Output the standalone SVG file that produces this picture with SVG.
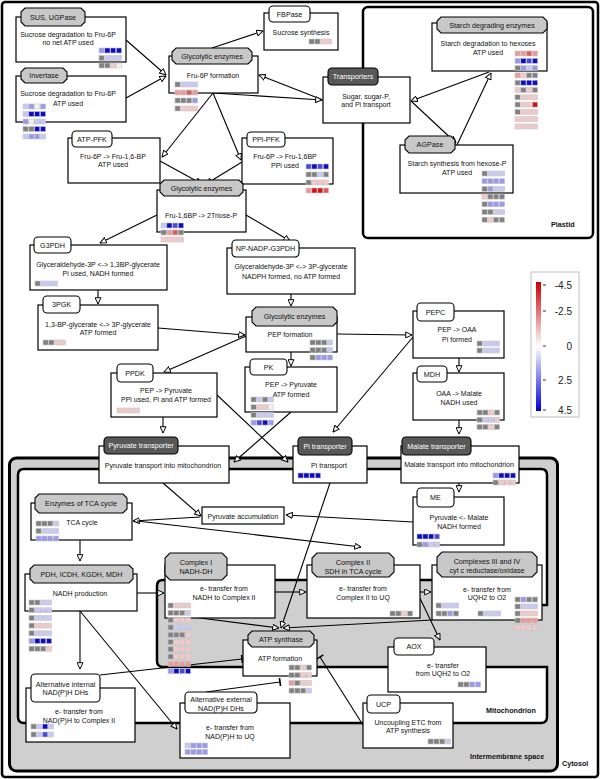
<svg xmlns="http://www.w3.org/2000/svg" width="600" height="779" viewBox="0 0 600 779">
<style>
text{font-family:"Liberation Sans",Arial,sans-serif;font-size:7px;text-anchor:middle;fill:#111}
.lb{font-size:7.2px}
.wt{fill:#fff}
.bd{font-weight:bold;font-size:7.2px;text-anchor:start}
.lg{font-size:10px;text-anchor:end;fill:#222}
.box{fill:#fff;stroke:#000;stroke-width:1.2}
.tg{fill:#c8c8c8;stroke:#000;stroke-width:1.1}
.tw{fill:#fff;stroke:#000;stroke-width:1.1}
.td{fill:#585858;stroke:#000;stroke-width:1.1}
.cn path{fill:none;stroke:#000;stroke-width:1.1}
.hm rect{stroke:#c8c8c8;stroke-width:0.6}
.g{fill:#808080}.w{fill:#f2f2f2}
.b1{fill:#c8c8f4}.b2{fill:#9898ec}.b3{fill:#4848dc}.b4{fill:#0c0cc8}
.r1{fill:#f4c8c8}.r2{fill:#eb9a9a}.r3{fill:#e05a5a}.r4{fill:#d81010}
</style>
<defs>
<marker id="a" viewBox="0 0 10 10" refX="9.5" refY="5" markerWidth="7" markerHeight="7" markerUnits="userSpaceOnUse" orient="auto"><path d="M0.5,0.8 L9.5,5 L0.5,9.2 Z" fill="#fff" stroke="#000" stroke-width="1.4"/></marker>
<marker id="t" viewBox="0 0 10 10" refX="5" refY="5" markerWidth="8" markerHeight="8" markerUnits="userSpaceOnUse" orient="auto"><path d="M5,0 V10" stroke="#000" stroke-width="2"/></marker>
<linearGradient id="lgd" x1="0" y1="0" x2="0" y2="1"><stop offset="0" stop-color="#c80000"/><stop offset="0.5" stop-color="#fff"/><stop offset="1" stop-color="#0000d8"/></linearGradient>
</defs>
<rect width="600" height="779" fill="#fff"/>
<g id="frames">
<rect x="2" y="2" width="596" height="775" rx="3" fill="#fff" stroke="#000" stroke-width="2.5"/>
<rect x="363" y="7" width="230" height="231" rx="5" fill="#fff" stroke="#000" stroke-width="2.5"/>
<rect x="9.5" y="458" width="548" height="313" rx="7" fill="#cfcfcf" stroke="#000" stroke-width="3"/>
<path d="M24,469 H541 Q547,469 547,475 V605 H436 V580 H163 Q157,580 157,586 V661 Q157,667 163,667 H547 V717 Q547,723 541,723 H24 Q18,723 18,717 V475 Q18,469 24,469 Z" fill="#fff" stroke="#000" stroke-width="2.5"/>
<text class="bd" x="486" y="713">Mitochondrion</text>
<text class="bd" x="551" y="227">Plastid</text>
<text class="bd" x="470" y="759">Intermembrane space</text>
<text class="bd" x="562" y="766">Cytosol</text>
</g>
<g id="legend">
<rect x="531" y="272" width="48" height="145" fill="#fff" stroke="#c8c8c8" stroke-width="1.2"/>
<rect x="536" y="282" width="5" height="129" fill="url(#lgd)"/>
<path d="M543,285 h3 M543,311 h3 M543,346 h3 M543,380 h3 M543,410 h3" stroke="#333" stroke-width="1"/>
<text class="lg" x="572" y="289">-4.5</text>
<text class="lg" x="572" y="315">-2.5</text>
<text class="lg" x="572" y="350">0</text>
<text class="lg" x="572" y="384">2.5</text>
<text class="lg" x="572" y="414">4.5</text>
</g>
<g id="connectors" class="cn">
<path d="M126,40 L166,75" marker-end="url(#a)"/>
<path d="M126,98 L166,76" marker-end="url(#a)"/>
<path d="M212,48 L263,31" marker-end="url(#a)"/>
<path d="M323,100 L259,75" marker-end="url(#a)"/>
<path d="M213,93 L322,100" marker-end="url(#a)"/>
<path d="M213,93 L162,157" marker-end="url(#a)"/>
<path d="M213,93 L241,160" marker-end="url(#a)"/>
<path d="M160,161 L202,184" marker-end="url(#a)"/>
<path d="M242,162 L206,184" marker-end="url(#a)"/>
<path d="M489,72 L411,101" marker-end="url(#a)"/>
<path d="M411,101 L456,143" marker-end="url(#a)"/>
<path d="M457,145 L491,73" marker-end="url(#a)"/>
<path d="M157,215 L100,243" marker-end="url(#a)"/>
<path d="M246,215 L290,241" marker-end="url(#a)"/>
<path d="M98,290 L98,304" marker-end="url(#a)"/>
<path d="M291,294 L291,306" marker-end="url(#a)"/>
<path d="M158,328 L245,335" marker-end="url(#a)"/>
<path d="M246,336 L164,372" marker-end="url(#a)"/>
<path d="M291,352 L291,366" marker-end="url(#a)"/>
<path d="M337,334 L412,335" marker-end="url(#a)"/>
<path d="M459,358 L459,372" marker-end="url(#a)"/>
<path d="M459,420 L459,434" marker-end="url(#a)"/>
<path d="M163,417 L163,433" marker-end="url(#a)"/>
<path d="M217,395 L288,462" marker-end="url(#a)"/>
<path d="M291,412 L234,462" marker-end="url(#a)"/>
<path d="M413,337 L333,432" marker-end="url(#a)"/>
<path d="M459,483 L459,492" marker-end="url(#a)"/>
<path d="M163,483 L201,516" marker-end="url(#a)"/>
<path d="M413,522 L286,515" marker-end="url(#a)"/>
<path d="M200,517 L133,521" marker-end="url(#a)"/>
<path d="M137,521 L361,547" marker-end="url(#a)"/>
<path d="M80,540 L80,561" marker-end="url(#a)"/>
<path d="M137,593 L164,593" marker-end="url(#a)"/>
<path d="M80,611 L80,669" marker-end="url(#a)"/>
<path d="M80,611 L177,729" marker-end="url(#a)"/>
<path d="M275,592 L306,592" marker-end="url(#a)"/>
<path d="M420,592 L431,592" marker-end="url(#a)"/>
<path d="M417,592 L440,640" marker-end="url(#a)"/>
<path d="M330,483 L281,628" marker-end="url(#a)"/>
<path d="M192,617 L279,628" marker-end="url(#a)"/>
<path d="M432,620 L283,628" marker-end="url(#a)"/>
<path d="M100,675 L242,659" marker-end="url(#t)"/>
<path d="M206,692 L280,682" marker-end="url(#t)"/>
<path d="M363,725 L320,657" marker-end="url(#t)"/>
</g>
<g id="nodes">
<g id="sus"><rect class="box" x="16" y="17" width="110" height="45"/><polygon class="tg" points="25,8 81,8 85,12 85,22 81,26 25,26 21,22 21,12"/><text class="lb" x="53" y="20">SUS, UGPase</text><text x="68" y="36.5">Sucrose degradation to Fru-6P</text><text x="68" y="44.5">no net ATP used</text></g>
<g id="invertase"><rect class="box" x="16" y="76" width="110" height="46"/><polygon class="tg" points="25,68 63,68 67,72 67,79 63,83 25,83 21,79 21,72"/><text class="lb" x="44" y="78">Invertase</text><text x="68" y="95.5">Sucrose degradation to Fru-6P</text><text x="68" y="105.5">ATP used</text></g>
<g id="glyc1"><rect class="box" x="169" y="56" width="89" height="37"/><polygon class="tg" points="176,48 248,48 252,52 252,60 248,64 176,64 172,60 172,52"/><text class="lb" x="212" y="58.5">Glycolytic enzymes</text><text x="213" y="77.5">Fru-6P formation</text></g>
<g id="fbpase"><rect class="box" x="264" y="13" width="74" height="37"/><rect class="tw" x="269" y="6" width="41" height="16" rx="4"/><text class="lb" x="289.5" y="16.5">FBPase</text><text x="301" y="34.5">Sucrose synthesis</text></g>
<g id="transporters"><rect class="box" x="323" y="77" width="87" height="46"/><rect class="td" x="328" y="68" width="50" height="17" rx="4"/><text class="lb wt" x="353" y="79">Transporters</text><text x="366" y="98.5">Sugar, sugar-P,</text><text x="366" y="106.5">and Pi transport</text></g>
<g id="atppfk"><rect class="box" x="68" y="138" width="92" height="45"/><rect class="tw" x="72" y="131" width="40" height="16" rx="4"/><text class="lb" x="92" y="141.5">ATP-PFK</text><text x="113" y="158.5">Fru-6P -&gt; Fru-1,6-BP</text><text x="113" y="166.5">ATP used</text></g>
<g id="ppipfk"><rect class="box" x="242" y="138" width="91" height="46"/><rect class="tw" x="247" y="132" width="38" height="15" rx="4"/><text class="lb" x="266" y="142">PPi-PFK</text><text x="285" y="158.5">Fru-6P -&gt; Fru-1,6BP</text><text x="285" y="168">PPi used</text></g>
<g id="starch"><rect class="box" x="432" y="23" width="115" height="48"/><polygon class="tg" points="441,17 543,17 547,21 547,29 543,33 441,33 437,29 437,21"/><text class="lb" x="492" y="27.5">Starch degrading enzymes</text><text x="488" y="45.5">Starch degradation to hexoses</text><text x="488" y="54.5">ATP used</text></g>
<g id="agpase"><rect class="box" x="400" y="145" width="113" height="48"/><polygon class="tg" points="409,136 451,136 455,140 455,149 451,153 409,153 405,149 405,140"/><text class="lb" x="430" y="147">AGPase</text><text x="457" y="165.5">Starch synthesis from hexose-P</text><text x="457" y="174.5">ATP used</text></g>
<g id="glyc2"><rect class="box" x="157" y="190" width="89" height="42"/><polygon class="tg" points="164,180 239,180 243,184 243,192 239,196 164,196 160,192 160,184"/><text class="lb" x="201.5" y="190.5">Glycolytic enzymes</text><text x="201" y="217.5">Fru-1,6BP -&gt; 2Triose-P</text></g>
<g id="g3pdh"><rect class="box" x="30" y="245" width="137" height="45"/><rect class="tw" x="34" y="237" width="37" height="16" rx="4"/><text class="lb" x="52.5" y="247.5">G3PDH</text><text x="98" y="266.5">Glyceraldehyde-3P &lt;-&gt; 1,3BP-glycerate</text><text x="98" y="275.5">Pi used, NADH formed</text></g>
<g id="pgk"><rect class="box" x="38" y="305" width="120" height="45"/><rect class="tw" x="43" y="296" width="37" height="17" rx="4"/><text class="lb" x="61.5" y="307">3PGK</text><text x="98" y="326.5">1,3-BP-glycerate &lt;-&gt; 3P-glycerate</text><text x="98" y="334.5">ATP formed</text></g>
<g id="npg3pdh"><rect class="box" x="227" y="248" width="128" height="46"/><rect class="tw" x="232" y="240" width="67" height="17" rx="4"/><text class="lb" x="265.5" y="251">NP-NADP-G3PDH</text><text x="291" y="268.5">Glyceraldehyde-3P &lt;-&gt; 3P-glycerate</text><text x="291" y="278.5">NADPH formed, no ATP formed</text></g>
<g id="glyc3"><rect class="box" x="246" y="317" width="91" height="35"/><polygon class="tg" points="256,307 333,307 337,311 337,322 333,326 256,326 252,322 252,311"/><text class="lb" x="294.5" y="319">Glycolytic enzymes</text><text x="290" y="336.5">PEP formation</text></g>
<g id="pk"><rect class="box" x="245" y="367" width="92" height="45"/><rect class="tw" x="250" y="359" width="37" height="16" rx="4"/><text class="lb" x="268.5" y="369.5">PK</text><text x="291" y="386.5">PEP -&gt; Pyruvate</text><text x="291" y="396.5">ATP formed</text></g>
<g id="ppdk"><rect class="box" x="111" y="373" width="106" height="44"/><rect class="tw" x="117" y="364" width="36" height="18" rx="4"/><text class="lb" x="135" y="375.5">PPDK</text><text x="166" y="392.5">PEP -&gt; Pyruvate</text><text x="166" y="401.5">PPi used, Pi and ATP formed</text></g>
<g id="pepc"><rect class="box" x="413" y="311" width="91" height="47"/><rect class="tw" x="417" y="303" width="37" height="18" rx="4"/><text class="lb" x="435.5" y="314.5">PEPC</text><text x="457" y="331.5">PEP -&gt; OAA</text><text x="457" y="341.5">Pi formed</text></g>
<g id="mdh"><rect class="box" x="413" y="373" width="91" height="47"/><rect class="tw" x="417" y="366" width="30" height="16" rx="4"/><text class="lb" x="432" y="376.5">MDH</text><text x="459" y="395.5">OAA -&gt; Malate</text><text x="459" y="404.5">NADH used</text></g>
<g id="pyrtr"><rect class="box" x="99" y="446" width="130" height="37"/><rect class="td" x="104" y="437" width="74" height="17" rx="4"/><text class="lb wt" x="141" y="448">Pyruvate transporter</text><text x="163" y="467.5">Pyruvate transport into mitochondrion</text></g>
<g id="pitr"><rect class="box" x="293" y="446" width="74" height="37"/><rect class="td" x="298" y="437" width="54" height="18" rx="4"/><text class="lb wt" x="325" y="448.5">Pi transporter</text><text x="329" y="467.5">Pi transport</text></g>
<g id="maltr"><rect class="box" x="401" y="446" width="118" height="37"/><rect class="td" x="402" y="437" width="69" height="18" rx="4"/><text class="lb wt" x="436.5" y="448.5">Malate transporter</text><text x="459" y="466.5">Malate transport into mitochondrion</text></g>
<g id="tca"><rect class="box" x="31" y="503" width="101" height="37"/><polygon class="tg" points="39,494 123,494 127,498 127,509 123,513 39,513 35,509 35,498"/><text class="lb" x="81" y="506">Enzymes of TCA cycle</text><text x="82" y="524.5">TCA cycle</text></g>
<g id="pyracc"><rect class="box" x="202" y="507" width="82" height="17"/><text x="243" y="518.5">Pyruvate accumulation</text></g>
<g id="me"><rect class="box" x="413" y="497" width="91" height="48"/><rect class="tw" x="417" y="488" width="37" height="19" rx="4"/><text class="lb" x="435.5" y="500">ME</text><text x="459" y="519.5">Pyruvate &lt;- Malate</text><text x="459" y="528.5">NADH formed</text></g>
<g id="pdh"><rect class="box" x="25" y="574" width="112" height="37"/><polygon class="tg" points="34,565 129,565 133,569 133,579 129,583 34,583 30,579 30,569"/><text class="lb" x="81.5" y="576.5">PDH, ICDH, KGDH, MDH</text><text x="80" y="595.5">NADH production</text></g>
<g id="c1"><rect class="box" x="165" y="565" width="110" height="53"/><polygon class="tg" points="170,553 222,553 227,558 227,575 222,580 170,580 165,575 165,558"/><text class="lb" x="196" y="564.5">Complex I</text><text class="lb" x="196" y="573.5">NADH-DH</text><text x="224" y="590.5">e- transfer from</text><text x="224" y="599.5">NADH to Complex II</text></g>
<g id="c2"><rect class="box" x="307" y="565" width="113" height="53"/><polygon class="tg" points="317,553 389,553 394,558 394,572 389,577 317,577 312,572 312,558"/><text class="lb" x="353" y="564.5">Complex II</text><text class="lb" x="353" y="573.5">SDH in TCA cycle</text><text x="363" y="590.5">e- transfer from</text><text x="363" y="599.5">Complex II to UQ</text></g>
<g id="c34"><rect class="box" x="432" y="565" width="110" height="55"/><polygon class="tg" points="442,552 532,552 537,557 537,572 532,577 442,577 437,572 437,557"/><text class="lb" x="487" y="563.5">Complexes III and IV</text><text class="lb" x="487" y="572.5">cyt c reductase/oxidase</text><text x="487" y="591.5">e- transfer from</text><text x="487" y="599.5">UQH2 to O2</text></g>
<g id="atps"><rect class="box" x="243" y="640" width="74" height="36"/><polygon class="tg" points="252,631 310,631 314,635 314,643 310,647 252,647 248,643 248,635"/><text class="lb" x="281" y="641.5">ATP synthase</text><text x="280" y="660.5">ATP formation</text></g>
<g id="aox"><rect class="box" x="388" y="647" width="98" height="45"/><rect class="tw" x="394" y="638" width="40" height="17" rx="4"/><text class="lb" x="414" y="649">AOX</text><text x="443" y="667.5">e- transfer</text><text x="443" y="675.5">from UQH2 to O2</text></g>
<g id="altint"><rect class="box" x="26" y="688" width="109" height="54"/><rect class="tw" x="31" y="674" width="69" height="28" rx="4"/><text class="lb" x="65.5" y="686.5">Alternative internal</text><text class="lb" x="65.5" y="695">NAD(P)H DHs</text><text x="79" y="713.5">e- transfer from</text><text x="79" y="722.5">NAD(P)H to Complex II</text></g>
<g id="altext"><rect class="box" x="180" y="703" width="110" height="55"/><rect class="tw" x="185" y="692" width="72" height="21" rx="4"/><text class="lb" x="221" y="702">Alternative external</text><text class="lb" x="221" y="710.5">NAD(P)H DHs</text><text x="230" y="729.5">e- transfer from</text><text x="230" y="738.5">NAD(P)H to UQ</text></g>
<g id="ucp"><rect class="box" x="363" y="703" width="90" height="45"/><rect class="tw" x="367" y="695" width="33" height="18" rx="4"/><text class="lb" x="383.5" y="706.5">UCP</text><text x="408" y="724.5">Uncoupling ETC from</text><text x="408" y="732.5">ATP synthesis</text></g>
</g>
<g id="heatmaps" class="hm">
<g transform="translate(99,48)"><rect class="b2" x="0" y="0" width="5.2" height="5"/><rect class="b4" x="5.8" y="0" width="5.2" height="5"/><rect class="b4" x="11.6" y="0" width="5.2" height="5"/><rect class="b4" x="17.4" y="0" width="5.2" height="5"/><rect class="g" x="0" y="7.5" width="5.2" height="5"/><rect class="b1" x="5.8" y="7.5" width="5.2" height="5"/><rect class="b1" x="11.6" y="7.5" width="5.2" height="5"/><rect class="b1" x="17.4" y="7.5" width="5.2" height="5"/><rect class="g" x="0" y="15" width="5.2" height="5"/><rect class="g" x="5.8" y="15" width="5.2" height="5"/><rect class="r1" x="11.6" y="15" width="5.2" height="5"/><rect class="w" x="17.4" y="15" width="5.2" height="5"/></g>
<g transform="translate(23,104)"><rect class="b1" x="0" y="0" width="5.2" height="5"/><rect class="b2" x="5.8" y="0" width="5.2" height="5"/><rect class="w" x="11.6" y="0" width="5.2" height="5"/><rect class="b2" x="17.4" y="0" width="5.2" height="5"/><rect class="b1" x="0" y="7.5" width="5.2" height="5"/><rect class="b4" x="5.8" y="7.5" width="5.2" height="5"/><rect class="b4" x="11.6" y="7.5" width="5.2" height="5"/><rect class="b4" x="17.4" y="7.5" width="5.2" height="5"/><rect class="b2" x="0" y="15" width="5.2" height="5"/><rect class="w" x="5.8" y="15" width="5.2" height="5"/><rect class="b1" x="11.6" y="15" width="5.2" height="5"/><rect class="b1" x="17.4" y="15" width="5.2" height="5"/><rect class="g" x="0" y="22.5" width="5.2" height="5"/><rect class="g" x="5.8" y="22.5" width="5.2" height="5"/><rect class="b4" x="11.6" y="22.5" width="5.2" height="5"/><rect class="b4" x="17.4" y="22.5" width="5.2" height="5"/><rect class="b1" x="0" y="30" width="5.2" height="5"/><rect class="b2" x="5.8" y="30" width="5.2" height="5"/><rect class="b2" x="11.6" y="30" width="5.2" height="5"/><rect class="b1" x="17.4" y="30" width="5.2" height="5"/></g>
<g transform="translate(175,82)"><rect class="g" x="0" y="0" width="5.2" height="5"/><rect class="b1" x="5.8" y="0" width="5.2" height="5"/><rect class="b1" x="11.6" y="0" width="5.2" height="5"/><rect class="b1" x="17.4" y="0" width="5.2" height="5"/><rect class="r2" x="0" y="8" width="5.2" height="5"/><rect class="r2" x="5.8" y="8" width="5.2" height="5"/><rect class="r3" x="11.6" y="8" width="5.2" height="5"/><rect class="r2" x="17.4" y="8" width="5.2" height="5"/><rect class="g" x="0" y="16" width="5.2" height="5"/><rect class="g" x="5.8" y="16" width="5.2" height="5"/><rect class="g" x="11.6" y="16" width="5.2" height="5"/><rect class="b2" x="17.4" y="16" width="5.2" height="5"/><rect class="g" x="0" y="24" width="5.2" height="5"/><rect class="r1" x="5.8" y="24" width="5.2" height="5"/><rect class="r1" x="11.6" y="24" width="5.2" height="5"/><rect class="r1" x="17.4" y="24" width="5.2" height="5"/></g>
<g transform="translate(309,39)"><rect class="g" x="0" y="0" width="5.2" height="5"/><rect class="g" x="5.8" y="0" width="5.2" height="5"/><rect class="r1" x="11.6" y="0" width="5.2" height="5"/><rect class="r1" x="17.4" y="0" width="5.2" height="5"/></g>
<g transform="translate(306,164)"><rect class="b3" x="0" y="0" width="5.2" height="5"/><rect class="b4" x="5.8" y="0" width="5.2" height="5"/><rect class="b3" x="11.6" y="0" width="5.2" height="5"/><rect class="b4" x="17.4" y="0" width="5.2" height="5"/><rect class="g" x="0" y="8" width="5.2" height="5"/><rect class="g" x="5.8" y="8" width="5.2" height="5"/><rect class="b1" x="11.6" y="8" width="5.2" height="5"/><rect class="g" x="17.4" y="8" width="5.2" height="5"/><rect class="g" x="0" y="16" width="5.2" height="5"/><rect class="r1" x="5.8" y="16" width="5.2" height="5"/><rect class="r1" x="11.6" y="16" width="5.2" height="5"/><rect class="r1" x="17.4" y="16" width="5.2" height="5"/><rect class="r2" x="0" y="24" width="5.2" height="5"/><rect class="r4" x="5.8" y="24" width="5.2" height="5"/><rect class="r4" x="11.6" y="24" width="5.2" height="5"/><rect class="r3" x="17.4" y="24" width="5.2" height="5"/></g>
<g transform="translate(515,51)"><rect class="r2" x="0" y="0" width="5.2" height="5"/><rect class="r2" x="5.8" y="0" width="5.2" height="5"/><rect class="r3" x="11.6" y="0" width="5.2" height="5"/><rect class="r2" x="17.4" y="0" width="5.2" height="5"/><rect class="b2" x="0" y="7.3" width="5.2" height="5"/><rect class="b4" x="5.8" y="7.3" width="5.2" height="5"/><rect class="b3" x="11.6" y="7.3" width="5.2" height="5"/><rect class="b4" x="17.4" y="7.3" width="5.2" height="5"/><rect class="g" x="0" y="14.6" width="5.2" height="5"/><rect class="b2" x="5.8" y="14.6" width="5.2" height="5"/><rect class="b1" x="11.6" y="14.6" width="5.2" height="5"/><rect class="b2" x="17.4" y="14.6" width="5.2" height="5"/><rect class="r2" x="0" y="21.9" width="5.2" height="5"/><rect class="r1" x="5.8" y="21.9" width="5.2" height="5"/><rect class="g" x="11.6" y="21.9" width="5.2" height="5"/><rect class="g" x="17.4" y="21.9" width="5.2" height="5"/><rect class="g" x="0" y="29.2" width="5.2" height="5"/><rect class="b4" x="5.8" y="29.2" width="5.2" height="5"/><rect class="b4" x="11.6" y="29.2" width="5.2" height="5"/><rect class="b4" x="17.4" y="29.2" width="5.2" height="5"/><rect class="r1" x="0" y="36.5" width="5.2" height="5"/><rect class="g" x="5.8" y="36.5" width="5.2" height="5"/><rect class="r1" x="11.6" y="36.5" width="5.2" height="5"/><rect class="g" x="17.4" y="36.5" width="5.2" height="5"/><rect class="g" x="0" y="43.8" width="5.2" height="5"/><rect class="r1" x="5.8" y="43.8" width="5.2" height="5"/><rect class="r1" x="11.6" y="43.8" width="5.2" height="5"/><rect class="r1" x="17.4" y="43.8" width="5.2" height="5"/><rect class="g" x="0" y="51.1" width="5.2" height="5"/><rect class="r1" x="5.8" y="51.1" width="5.2" height="5"/><rect class="r1" x="11.6" y="51.1" width="5.2" height="5"/><rect class="r4" x="17.4" y="51.1" width="5.2" height="5"/><rect class="g" x="0" y="58.4" width="5.2" height="5"/><rect class="r1" x="5.8" y="58.4" width="5.2" height="5"/><rect class="r1" x="11.6" y="58.4" width="5.2" height="5"/><rect class="r1" x="17.4" y="58.4" width="5.2" height="5"/><rect class="r1" x="0" y="65.7" width="5.2" height="5"/><rect class="r1" x="5.8" y="65.7" width="5.2" height="5"/><rect class="r1" x="11.6" y="65.7" width="5.2" height="5"/><rect class="r1" x="17.4" y="65.7" width="5.2" height="5"/><rect class="r1" x="0" y="73" width="5.2" height="5"/><rect class="r1" x="5.8" y="73" width="5.2" height="5"/><rect class="r1" x="11.6" y="73" width="5.2" height="5"/><rect class="r1" x="17.4" y="73" width="5.2" height="5"/></g>
<g transform="translate(482,171)"><rect class="g" x="0" y="0" width="5.2" height="5"/><rect class="b1" x="5.8" y="0" width="5.2" height="5"/><rect class="b1" x="11.6" y="0" width="5.2" height="5"/><rect class="b1" x="17.4" y="0" width="5.2" height="5"/><rect class="b2" x="0" y="7.7" width="5.2" height="5"/><rect class="b2" x="5.8" y="7.7" width="5.2" height="5"/><rect class="b2" x="11.6" y="7.7" width="5.2" height="5"/><rect class="b2" x="17.4" y="7.7" width="5.2" height="5"/><rect class="g" x="0" y="15.4" width="5.2" height="5"/><rect class="b2" x="5.8" y="15.4" width="5.2" height="5"/><rect class="b1" x="11.6" y="15.4" width="5.2" height="5"/><rect class="b1" x="17.4" y="15.4" width="5.2" height="5"/><rect class="r1" x="0" y="23.1" width="5.2" height="5"/><rect class="g" x="5.8" y="23.1" width="5.2" height="5"/><rect class="g" x="11.6" y="23.1" width="5.2" height="5"/><rect class="g" x="17.4" y="23.1" width="5.2" height="5"/><rect class="g" x="0" y="30.8" width="5.2" height="5"/><rect class="b2" x="5.8" y="30.8" width="5.2" height="5"/><rect class="b2" x="11.6" y="30.8" width="5.2" height="5"/><rect class="b2" x="17.4" y="30.8" width="5.2" height="5"/><rect class="g" x="0" y="38.5" width="5.2" height="5"/><rect class="g" x="5.8" y="38.5" width="5.2" height="5"/><rect class="b1" x="11.6" y="38.5" width="5.2" height="5"/><rect class="b1" x="17.4" y="38.5" width="5.2" height="5"/><rect class="g" x="0" y="46.2" width="5.2" height="5"/><rect class="r1" x="5.8" y="46.2" width="5.2" height="5"/><rect class="g" x="11.6" y="46.2" width="5.2" height="5"/><rect class="g" x="17.4" y="46.2" width="5.2" height="5"/></g>
<g transform="translate(161,223)"><rect class="b1" x="0" y="0" width="5.2" height="5"/><rect class="b4" x="5.8" y="0" width="5.2" height="5"/><rect class="b3" x="11.6" y="0" width="5.2" height="5"/><rect class="b4" x="17.4" y="0" width="5.2" height="5"/><rect class="g" x="0" y="7" width="5.2" height="5"/><rect class="r2" x="5.8" y="7" width="5.2" height="5"/><rect class="r3" x="11.6" y="7" width="5.2" height="5"/><rect class="g" x="17.4" y="7" width="5.2" height="5"/><rect class="r1" x="0" y="14" width="5.2" height="5"/><rect class="r1" x="5.8" y="14" width="5.2" height="5"/><rect class="r1" x="11.6" y="14" width="5.2" height="5"/><rect class="r1" x="17.4" y="14" width="5.2" height="5"/></g>
<g transform="translate(35,281)"><rect class="g" x="0" y="0" width="5.2" height="5"/><rect class="b1" x="5.8" y="0" width="5.2" height="5"/><rect class="b1" x="11.6" y="0" width="5.2" height="5"/><rect class="b1" x="17.4" y="0" width="5.2" height="5"/></g>
<g transform="translate(43,340)"><rect class="g" x="0" y="0" width="5.2" height="5"/><rect class="g" x="5.8" y="0" width="5.2" height="5"/><rect class="r1" x="11.6" y="0" width="5.2" height="5"/><rect class="r1" x="17.4" y="0" width="5.2" height="5"/></g>
<g transform="translate(310,340)"><rect class="g" x="0" y="0" width="5.2" height="5"/><rect class="g" x="5.8" y="0" width="5.2" height="5"/><rect class="g" x="11.6" y="0" width="5.2" height="5"/><rect class="b1" x="17.4" y="0" width="5.2" height="5"/><rect class="g" x="0" y="7.5" width="5.2" height="5"/><rect class="g" x="5.8" y="7.5" width="5.2" height="5"/><rect class="g" x="11.6" y="7.5" width="5.2" height="5"/><rect class="b1" x="17.4" y="7.5" width="5.2" height="5"/><rect class="g" x="0" y="15" width="5.2" height="5"/><rect class="b2" x="5.8" y="15" width="5.2" height="5"/><rect class="b2" x="11.6" y="15" width="5.2" height="5"/><rect class="b2" x="17.4" y="15" width="5.2" height="5"/></g>
<g transform="translate(251,397)"><rect class="g" x="0" y="0" width="5.2" height="5"/><rect class="b1" x="5.8" y="0" width="5.2" height="5"/><rect class="g" x="11.6" y="0" width="5.2" height="5"/><rect class="b1" x="17.4" y="0" width="5.2" height="5"/><rect class="g" x="0" y="7.7" width="5.2" height="5"/><rect class="r1" x="5.8" y="7.7" width="5.2" height="5"/><rect class="r1" x="11.6" y="7.7" width="5.2" height="5"/><rect class="w" x="17.4" y="7.7" width="5.2" height="5"/><rect class="g" x="0" y="15.4" width="5.2" height="5"/><rect class="b1" x="5.8" y="15.4" width="5.2" height="5"/><rect class="b1" x="11.6" y="15.4" width="5.2" height="5"/><rect class="b1" x="17.4" y="15.4" width="5.2" height="5"/><rect class="b2" x="0" y="23.1" width="5.2" height="5"/><rect class="b3" x="5.8" y="23.1" width="5.2" height="5"/><rect class="b4" x="11.6" y="23.1" width="5.2" height="5"/><rect class="b2" x="17.4" y="23.1" width="5.2" height="5"/></g>
<g transform="translate(117,408)"><rect class="r1" x="0" y="0" width="5.2" height="5"/><rect class="r1" x="5.8" y="0" width="5.2" height="5"/><rect class="r1" x="11.6" y="0" width="5.2" height="5"/><rect class="r1" x="17.4" y="0" width="5.2" height="5"/></g>
<g transform="translate(477,341)"><rect class="g" x="0" y="0" width="5.2" height="5"/><rect class="b1" x="5.8" y="0" width="5.2" height="5"/><rect class="b1" x="11.6" y="0" width="5.2" height="5"/><rect class="b1" x="17.4" y="0" width="5.2" height="5"/><rect class="g" x="0" y="7" width="5.2" height="5"/><rect class="b1" x="5.8" y="7" width="5.2" height="5"/><rect class="b1" x="11.6" y="7" width="5.2" height="5"/><rect class="b1" x="17.4" y="7" width="5.2" height="5"/></g>
<g transform="translate(477,410)"><rect class="g" x="0" y="0" width="5.2" height="5"/><rect class="g" x="5.8" y="0" width="5.2" height="5"/><rect class="r1" x="11.6" y="0" width="5.2" height="5"/><rect class="g" x="17.4" y="0" width="5.2" height="5"/><rect class="g" x="0" y="7.2" width="5.2" height="5"/><rect class="b1" x="5.8" y="7.2" width="5.2" height="5"/><rect class="b1" x="11.6" y="7.2" width="5.2" height="5"/><rect class="r1" x="17.4" y="7.2" width="5.2" height="5"/><rect class="g" x="0" y="14.4" width="5.2" height="5"/><rect class="g" x="5.8" y="14.4" width="5.2" height="5"/><rect class="r1" x="11.6" y="14.4" width="5.2" height="5"/><rect class="g" x="17.4" y="14.4" width="5.2" height="5"/></g>
<g transform="translate(298,473)"><rect class="b4" x="0" y="0" width="5.2" height="5"/><rect class="b4" x="5.8" y="0" width="5.2" height="5"/><rect class="b4" x="11.6" y="0" width="5.2" height="5"/><rect class="b4" x="17.4" y="0" width="5.2" height="5"/></g>
<g transform="translate(493,473)"><rect class="b2" x="0" y="0" width="5.2" height="5"/><rect class="b4" x="5.8" y="0" width="5.2" height="5"/><rect class="b4" x="11.6" y="0" width="5.2" height="5"/><rect class="b4" x="17.4" y="0" width="5.2" height="5"/><rect class="g" x="0" y="7" width="5.2" height="5"/><rect class="r1" x="5.8" y="7" width="5.2" height="5"/><rect class="r1" x="11.6" y="7" width="5.2" height="5"/><rect class="r1" x="17.4" y="7" width="5.2" height="5"/></g>
<g transform="translate(36,521)"><rect class="g" x="0" y="0" width="5.2" height="5"/><rect class="g" x="5.8" y="0" width="5.2" height="5"/><rect class="g" x="11.6" y="0" width="5.2" height="5"/><rect class="b1" x="17.4" y="0" width="5.2" height="5"/><rect class="g" x="0" y="7.5" width="5.2" height="5"/><rect class="b1" x="5.8" y="7.5" width="5.2" height="5"/><rect class="b1" x="11.6" y="7.5" width="5.2" height="5"/><rect class="b1" x="17.4" y="7.5" width="5.2" height="5"/><rect class="b2" x="0" y="15" width="5.2" height="5"/><rect class="b2" x="5.8" y="15" width="5.2" height="5"/><rect class="b2" x="11.6" y="15" width="5.2" height="5"/><rect class="b2" x="17.4" y="15" width="5.2" height="5"/></g>
<g transform="translate(417,534)"><rect class="b4" x="0" y="0" width="5.2" height="5"/><rect class="b4" x="5.8" y="0" width="5.2" height="5"/><rect class="b4" x="11.6" y="0" width="5.2" height="5"/><rect class="b3" x="17.4" y="0" width="5.2" height="5"/><rect class="g" x="0" y="8" width="5.2" height="5"/><rect class="b2" x="5.8" y="8" width="5.2" height="5"/><rect class="b1" x="11.6" y="8" width="5.2" height="5"/><rect class="b1" x="17.4" y="8" width="5.2" height="5"/></g>
<g transform="translate(29,600)"><rect class="g" x="0" y="0" width="5.2" height="5"/><rect class="g" x="5.8" y="0" width="5.2" height="5"/><rect class="b1" x="11.6" y="0" width="5.2" height="5"/><rect class="b1" x="17.4" y="0" width="5.2" height="5"/><rect class="g" x="0" y="7.7" width="5.2" height="5"/><rect class="b1" x="5.8" y="7.7" width="5.2" height="5"/><rect class="b1" x="11.6" y="7.7" width="5.2" height="5"/><rect class="b1" x="17.4" y="7.7" width="5.2" height="5"/><rect class="g" x="0" y="15.4" width="5.2" height="5"/><rect class="b1" x="5.8" y="15.4" width="5.2" height="5"/><rect class="b1" x="11.6" y="15.4" width="5.2" height="5"/><rect class="b1" x="17.4" y="15.4" width="5.2" height="5"/><rect class="g" x="0" y="23.1" width="5.2" height="5"/><rect class="r1" x="5.8" y="23.1" width="5.2" height="5"/><rect class="r1" x="11.6" y="23.1" width="5.2" height="5"/><rect class="r1" x="17.4" y="23.1" width="5.2" height="5"/><rect class="g" x="0" y="30.8" width="5.2" height="5"/><rect class="b1" x="5.8" y="30.8" width="5.2" height="5"/><rect class="b1" x="11.6" y="30.8" width="5.2" height="5"/><rect class="b1" x="17.4" y="30.8" width="5.2" height="5"/><rect class="b2" x="0" y="38.5" width="5.2" height="5"/><rect class="b4" x="5.8" y="38.5" width="5.2" height="5"/><rect class="b4" x="11.6" y="38.5" width="5.2" height="5"/><rect class="b4" x="17.4" y="38.5" width="5.2" height="5"/><rect class="g" x="0" y="46.2" width="5.2" height="5"/><rect class="g" x="5.8" y="46.2" width="5.2" height="5"/><rect class="g" x="11.6" y="46.2" width="5.2" height="5"/><rect class="r1" x="17.4" y="46.2" width="5.2" height="5"/></g>
<g transform="translate(168,603)"><rect class="g" x="0" y="0" width="5.2" height="5"/><rect class="r1" x="5.8" y="0" width="5.2" height="5"/><rect class="r1" x="11.6" y="0" width="5.2" height="5"/><rect class="r1" x="17.4" y="0" width="5.2" height="5"/><rect class="g" x="0" y="7.3" width="5.2" height="5"/><rect class="g" x="5.8" y="7.3" width="5.2" height="5"/><rect class="g" x="11.6" y="7.3" width="5.2" height="5"/><rect class="b1" x="17.4" y="7.3" width="5.2" height="5"/><rect class="g" x="0" y="14.6" width="5.2" height="5"/><rect class="r1" x="5.8" y="14.6" width="5.2" height="5"/><rect class="r1" x="11.6" y="14.6" width="5.2" height="5"/><rect class="r1" x="17.4" y="14.6" width="5.2" height="5"/><rect class="g" x="0" y="21.9" width="5.2" height="5"/><rect class="b1" x="5.8" y="21.9" width="5.2" height="5"/><rect class="b1" x="11.6" y="21.9" width="5.2" height="5"/><rect class="b1" x="17.4" y="21.9" width="5.2" height="5"/><rect class="g" x="0" y="29.2" width="5.2" height="5"/><rect class="g" x="5.8" y="29.2" width="5.2" height="5"/><rect class="g" x="11.6" y="29.2" width="5.2" height="5"/><rect class="r1" x="17.4" y="29.2" width="5.2" height="5"/><rect class="g" x="0" y="36.5" width="5.2" height="5"/><rect class="r1" x="5.8" y="36.5" width="5.2" height="5"/><rect class="r1" x="11.6" y="36.5" width="5.2" height="5"/><rect class="r1" x="17.4" y="36.5" width="5.2" height="5"/><rect class="g" x="0" y="43.8" width="5.2" height="5"/><rect class="r1" x="5.8" y="43.8" width="5.2" height="5"/><rect class="r1" x="11.6" y="43.8" width="5.2" height="5"/><rect class="r1" x="17.4" y="43.8" width="5.2" height="5"/><rect class="g" x="0" y="51.1" width="5.2" height="5"/><rect class="r1" x="5.8" y="51.1" width="5.2" height="5"/><rect class="r1" x="11.6" y="51.1" width="5.2" height="5"/><rect class="r1" x="17.4" y="51.1" width="5.2" height="5"/><rect class="r2" x="0" y="58.4" width="5.2" height="5"/><rect class="r2" x="5.8" y="58.4" width="5.2" height="5"/><rect class="r2" x="11.6" y="58.4" width="5.2" height="5"/><rect class="r2" x="17.4" y="58.4" width="5.2" height="5"/><rect class="b2" x="0" y="65.7" width="5.2" height="5"/><rect class="b4" x="5.8" y="65.7" width="5.2" height="5"/><rect class="b3" x="11.6" y="65.7" width="5.2" height="5"/><rect class="b4" x="17.4" y="65.7" width="5.2" height="5"/></g>
<g transform="translate(390,611)"><rect class="g" x="0" y="0" width="5.2" height="5"/><rect class="g" x="5.8" y="0" width="5.2" height="5"/><rect class="r1" x="11.6" y="0" width="5.2" height="5"/><rect class="g" x="17.4" y="0" width="5.2" height="5"/></g>
<g transform="translate(436,603)"><rect class="g" x="0" y="0" width="5.2" height="5"/><rect class="b1" x="5.8" y="0" width="5.2" height="5"/><rect class="b1" x="11.6" y="0" width="5.2" height="5"/><rect class="b1" x="17.4" y="0" width="5.2" height="5"/><rect class="g" x="0" y="8" width="5.2" height="5"/><rect class="g" x="5.8" y="8" width="5.2" height="5"/><rect class="b2" x="11.6" y="8" width="5.2" height="5"/><rect class="g" x="17.4" y="8" width="5.2" height="5"/></g>
<g transform="translate(478,611)"><rect class="g" x="0" y="0" width="5.2" height="5"/><rect class="b1" x="5.8" y="0" width="5.2" height="5"/><rect class="b1" x="11.6" y="0" width="5.2" height="5"/><rect class="b1" x="17.4" y="0" width="5.2" height="5"/></g>
<g transform="translate(515,597)"><rect class="g" x="0" y="0" width="5.2" height="5"/><rect class="b2" x="5.8" y="0" width="5.2" height="5"/><rect class="g" x="11.6" y="0" width="5.2" height="5"/><rect class="g" x="17.4" y="0" width="5.2" height="5"/><rect class="g" x="0" y="7" width="5.2" height="5"/><rect class="b1" x="5.8" y="7" width="5.2" height="5"/><rect class="b1" x="11.6" y="7" width="5.2" height="5"/><rect class="b1" x="17.4" y="7" width="5.2" height="5"/><rect class="g" x="0" y="14" width="5.2" height="5"/><rect class="r1" x="5.8" y="14" width="5.2" height="5"/><rect class="r1" x="11.6" y="14" width="5.2" height="5"/><rect class="r1" x="17.4" y="14" width="5.2" height="5"/><rect class="g" x="0" y="21" width="5.2" height="5"/><rect class="r2" x="5.8" y="21" width="5.2" height="5"/><rect class="r2" x="11.6" y="21" width="5.2" height="5"/><rect class="r2" x="17.4" y="21" width="5.2" height="5"/><rect class="r1" x="0" y="28" width="5.2" height="5"/><rect class="r1" x="5.8" y="28" width="5.2" height="5"/><rect class="r1" x="11.6" y="28" width="5.2" height="5"/><rect class="r1" x="17.4" y="28" width="5.2" height="5"/></g>
<g transform="translate(289,665)"><rect class="g" x="0" y="0" width="5.2" height="5"/><rect class="g" x="5.8" y="0" width="5.2" height="5"/><rect class="r1" x="11.6" y="0" width="5.2" height="5"/><rect class="g" x="17.4" y="0" width="5.2" height="5"/><rect class="g" x="0" y="7.7" width="5.2" height="5"/><rect class="g" x="5.8" y="7.7" width="5.2" height="5"/><rect class="r1" x="11.6" y="7.7" width="5.2" height="5"/><rect class="r1" x="17.4" y="7.7" width="5.2" height="5"/><rect class="r2" x="0" y="15.4" width="5.2" height="5"/><rect class="g" x="5.8" y="15.4" width="5.2" height="5"/><rect class="r1" x="11.6" y="15.4" width="5.2" height="5"/><rect class="r1" x="17.4" y="15.4" width="5.2" height="5"/><rect class="g" x="0" y="23.1" width="5.2" height="5"/><rect class="g" x="5.8" y="23.1" width="5.2" height="5"/><rect class="g" x="11.6" y="23.1" width="5.2" height="5"/><rect class="b1" x="17.4" y="23.1" width="5.2" height="5"/></g>
<g transform="translate(31,724)"><rect class="g" x="0" y="0" width="5.2" height="5"/><rect class="b1" x="5.8" y="0" width="5.2" height="5"/><rect class="b4" x="11.6" y="0" width="5.2" height="5"/><rect class="b1" x="17.4" y="0" width="5.2" height="5"/><rect class="g" x="0" y="8" width="5.2" height="5"/><rect class="b1" x="5.8" y="8" width="5.2" height="5"/><rect class="b3" x="11.6" y="8" width="5.2" height="5"/><rect class="b1" x="17.4" y="8" width="5.2" height="5"/></g>
<g transform="translate(185,743)"><rect class="b1" x="0" y="0" width="5.2" height="5"/><rect class="b2" x="5.8" y="0" width="5.2" height="5"/><rect class="b2" x="11.6" y="0" width="5.2" height="5"/><rect class="b2" x="17.4" y="0" width="5.2" height="5"/><rect class="b2" x="0" y="6.5" width="5.2" height="5"/><rect class="b2" x="5.8" y="6.5" width="5.2" height="5"/><rect class="b2" x="11.6" y="6.5" width="5.2" height="5"/><rect class="b2" x="17.4" y="6.5" width="5.2" height="5"/></g>
<g transform="translate(458,682)"><rect class="g" x="0" y="0" width="5.2" height="5"/><rect class="g" x="5.8" y="0" width="5.2" height="5"/><rect class="b2" x="11.6" y="0" width="5.2" height="5"/><rect class="b2" x="17.4" y="0" width="5.2" height="5"/></g>
<g transform="translate(428,739)"><rect class="g" x="0" y="0" width="5.2" height="5"/><rect class="g" x="5.8" y="0" width="5.2" height="5"/><rect class="g" x="11.6" y="0" width="5.2" height="5"/><rect class="b1" x="17.4" y="0" width="5.2" height="5"/></g>
</g>
</svg>
